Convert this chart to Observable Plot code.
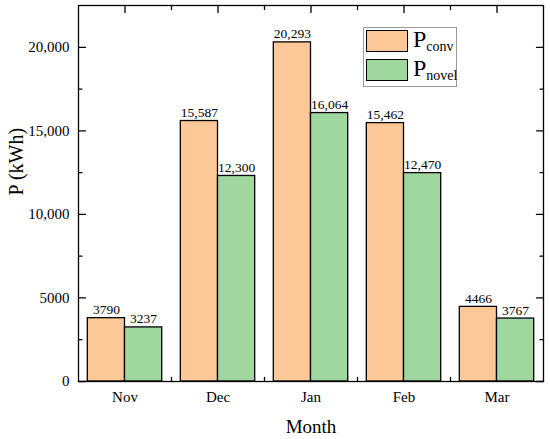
<!DOCTYPE html>
<html>
<head>
<meta charset="utf-8">
<script src="https://cdn.jsdelivr.net/npm/d3@7"></script>
<script src="https://cdn.jsdelivr.net/npm/@observablehq/plot@0.6"></script>
<style>
  html, body { margin: 0; padding: 0; background: #fff; }
  #wrap { position: relative; width: 550px; height: 439px; font-family: "Liberation Serif", "Times New Roman", serif; }
  #wrap svg, #wrap svg text { font-family: "Liberation Serif", "Times New Roman", serif !important; }
  #legend { position: absolute; left: 363px; top: 27px; width: 94px; height: 60px; border: 1px solid #9a9a9a; box-sizing: border-box; background: #fff; }
  .item { position: absolute; left: 2px; height: 22px; }
  .sw { position: absolute; left: 0; top: 0; width: 42px; height: 22px; border: 1.3px solid #000; box-sizing: border-box; }
  .lab { position: absolute; left: 47px; top: -5px; font-size: 24px; line-height: 28px; white-space: nowrap; color: #000; }
  .lab sub { font-size: 14px; vertical-align: baseline; position: relative; top: 4px; }
</style>
</head>
<body>
<div id="wrap"></div>
<script>
const months = ["Nov", "Dec", "Jan", "Feb", "Mar"];
const pConv = [3790, 15587, 20293, 15462, 4466];
const pNovel = [3237, 12300, 16064, 12470, 3767];
const seriesNames = ["conv", "novel"];
const seriesColors = ["#fdc897", "#9fd79f"];
const yMajor = [0, 5000, 10000, 15000, 20000];
const yMinor = [2500, 7500, 12500, 17500];

const rows = [];
months.forEach((m, i) => {
  rows.push({month: m, i, series: "conv", value: pConv[i]});
  rows.push({month: m, i, series: "novel", value: pNovel[i]});
});

const fmt = d => d >= 10000 ? d3.format(",")(d) : String(d);
const xIdx = months.map((m, i) => i);
const xMinor = months.slice(1).map((m, i) => i + 0.5);
const BW = 0.4;
const serif = '"Liberation Serif", "Times New Roman", serif';
const T = 7, t = 3.5;

// straight tick line drawn by the vector mark (0° = up)
const tickShape = {draw(context, l) { context.moveTo(0, 0); context.lineTo(0, -l); }};
const ticksY = (vals, side, len) => Plot.vector(vals, {
  y: d => d, frameAnchor: side, rotate: side === "left" ? 90 : -90,
  length: len, anchor: "start", shape: tickShape, stroke: "#000", strokeWidth: 1.3
});
const ticksX = (vals, side, len) => Plot.vector(vals, {
  x: d => d, frameAnchor: side, rotate: side === "bottom" ? 0 : 180,
  length: len, anchor: "start", shape: tickShape, stroke: "#000", strokeWidth: 1.3
});

const chart = Plot.plot({
  width: 550,
  height: 439,
  marginLeft: 78,
  marginRight: 7,
  marginTop: 5,
  marginBottom: 58,
  style: {fontFamily: serif, color: "#000", background: "#fff"},
  x: {type: "linear", domain: [-0.5, 4.5], axis: null},
  y: {domain: [0, 22500], axis: null},
  color: {domain: seriesNames, range: seriesColors},
  marks: [
    Plot.axisY({ticks: yMajor, anchor: "left", tickSize: 0, tickPadding: 9, tickFormat: fmt, fontSize: 15, fontFamily: serif, label: null}),
    Plot.axisX({ticks: xIdx, anchor: "bottom", tickSize: 0, tickPadding: 10, tickFormat: i => months[i], fontSize: 15, fontFamily: serif, label: null}),
    ticksY(yMajor, "left", T),
    ticksY(yMinor, "left", t),
    ticksY(yMajor, "right", T),
    ticksY(yMinor, "right", t),
    ticksX(xIdx, "bottom", T),
    ticksX(xMinor, "bottom", 4),
    ticksX(xIdx, "top", T),
    ticksX(xMinor, "top", 4),
    Plot.rectY(rows, {
      x1: d => d.series === "conv" ? d.i - BW : d.i,
      x2: d => d.series === "conv" ? d.i : d.i + BW,
      y1: 0,
      y2: "value",
      fill: "series",
      stroke: "#000",
      strokeWidth: 1.3
    }),
    Plot.text(rows, {
      x: d => d.series === "conv" ? d.i - BW / 2 : d.i + BW / 2,
      y: "value",
      text: d => fmt(d.value),
      dy: -4,
      lineAnchor: "bottom",
      fontSize: 13.5,
      fontFamily: serif,
      fill: "#000"
    }),
    Plot.frame({stroke: "#000", strokeWidth: 1.3}),
    Plot.text(["P (kWh)"], {text: d => d, frameAnchor: "left", rotate: -90, dx: -62, dy: 2, fontSize: 20, fontFamily: serif, fill: "#000"}),
    Plot.text(["Month"], {text: d => d, frameAnchor: "bottom", dy: 51, lineAnchor: "bottom", fontSize: 19, fontFamily: serif, fill: "#000"})
  ]
});

const wrap = document.getElementById("wrap");
wrap.appendChild(chart);

const legend = document.createElement("div");
legend.id = "legend";
seriesNames.forEach((s, k) => {
  const item = document.createElement("div");
  item.className = "item";
  item.style.top = (2 + k * 29) + "px";
  const sw = document.createElement("div");
  sw.className = "sw";
  sw.style.background = seriesColors[k];
  const lab = document.createElement("div");
  lab.className = "lab";
  lab.innerHTML = "P<sub>" + s + "</sub>";
  item.appendChild(sw);
  item.appendChild(lab);
  legend.appendChild(item);
});
wrap.appendChild(legend);
</script>
</body>
</html>
